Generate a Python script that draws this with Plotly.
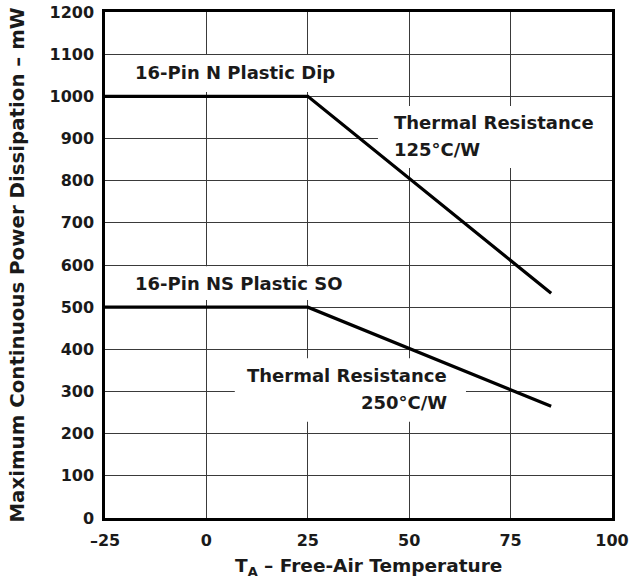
import plotly.graph_objects as go

# Derating curves (ambient temperature in degC, power in mW)
temp_dip = [-25, 25, 85]
power_dip = [1000, 1000, 533]

temp_so = [-25, 25, 85]
power_so = [500, 500, 265]

x_ticks = [-25, 0, 25, 50, 75, 100]
x_tick_text = ["–25", "0", "25", "50", "75", "100"]
y_ticks = list(range(0, 1300, 100))

FONT = "DejaVu Sans, Liberation Sans, Arial, sans-serif"
TEXT_COLOR = "#1a1a1a"

fig = go.Figure()

fig.add_trace(
    go.Scatter(
        x=temp_dip,
        y=power_dip,
        mode="lines",
        name="16-Pin N Plastic Dip",
        line=dict(color="black", width=3.2),
    )
)
fig.add_trace(
    go.Scatter(
        x=temp_so,
        y=power_so,
        mode="lines",
        name="16-Pin NS Plastic SO",
        line=dict(color="black", width=3.2),
    )
)

# White boxes behind the labels (hide gridlines, stay under the curves)
boxes = [
    (-25, 33, 1010, 1098),
    (-25, 35, 517, 597),
    (42.3, 100, 830, 977),
    (7, 64, 228, 379),
]
for x0, x1, y0, y1 in boxes:
    fig.add_shape(
        type="rect",
        x0=x0,
        x1=x1,
        y0=y0,
        y1=y1,
        fillcolor="white",
        line=dict(width=0),
        layer="between",
    )

label_font = dict(family=FONT, size=18, color=TEXT_COLOR)

labels = [
    (-18.1, 1057, "16-Pin N Plastic Dip", "left"),
    (-18.1, 557, "16-Pin NS Plastic SO", "left"),
    (45.8, 939, "Thermal Resistance", "left"),
    (45.8, 875, "125°C/W", "left"),
    (59.8, 339, "Thermal Resistance", "right"),
    (59.8, 273, "250°C/W", "right"),
]
for x, y, text, anchor in labels:
    fig.add_annotation(
        x=x,
        y=y,
        text=f"<b>{text}</b>",
        showarrow=False,
        xanchor=anchor,
        yanchor="middle",
        font=label_font,
    )

# x-axis title, placed a little right of centre as in the original
fig.add_annotation(
    x=0.519,
    y=0,
    xref="paper",
    yref="paper",
    yshift=-35,
    text="<b>T<sub>A</sub> – Free-Air Temperature</b>",
    showarrow=False,
    xanchor="center",
    yanchor="top",
    font=dict(family=FONT, size=18.5, color=TEXT_COLOR),
)

fig.update_layout(
    width=637,
    height=582,
    margin=dict(l=105, r=25, t=12, b=64),
    plot_bgcolor="white",
    paper_bgcolor="white",
    showlegend=False,
    font=dict(family=FONT, color=TEXT_COLOR),
)

fig.update_xaxes(
    range=[-25, 100],
    automargin=False,
    tickvals=x_ticks,
    ticktext=[f"<b>{t}</b>" for t in x_tick_text],
    tickfont=dict(size=16),
    ticklabelstandoff=6,
    showgrid=True,
    gridcolor="#3a3a3a",
    gridwidth=1.1,
    zeroline=False,
    showline=True,
    linecolor="black",
    linewidth=2.5,
    mirror=True,
    ticks="",
)
fig.update_yaxes(
    range=[0, 1200],
    automargin=False,
    tickvals=y_ticks,
    ticktext=[f"<b>{t}</b>" for t in y_ticks],
    tickfont=dict(size=16),
    ticklabelstandoff=5,
    showgrid=True,
    gridcolor="#3a3a3a",
    gridwidth=1.1,
    zeroline=False,
    showline=True,
    linecolor="black",
    linewidth=2.5,
    mirror=True,
    ticks="",
    title=dict(
        text="<b>Maximum Continuous Power Dissipation – mW</b>",
        font=dict(size=19.8),
        standoff=20,
    ),
)

# drop the browser's default page margin so the figure sits at the window's corner
fig.write_html(
    "out.html",
    config={"displayModeBar": False},
    post_script="document.body.style.margin = '0';",
)
